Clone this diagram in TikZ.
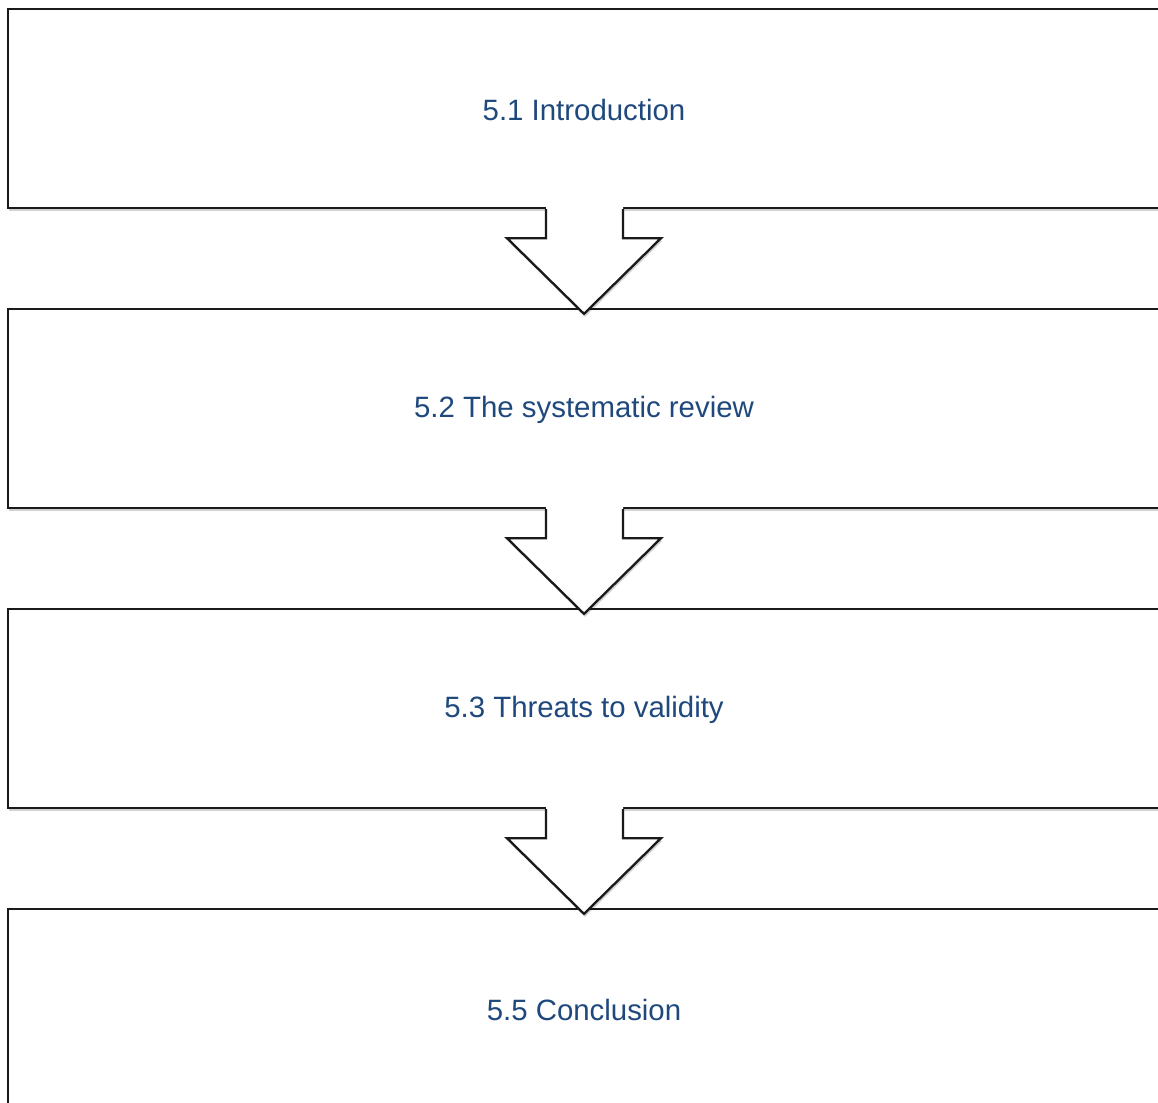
\documentclass[tikz,border=0pt]{standalone}
\usepackage{fontspec}
\setmainfont{Liberation Sans}
\usetikzlibrary{calc,shadows}
\definecolor{textblue}{HTML}{1F497D}
\definecolor{edge}{HTML}{1A1A1A}
\begin{document}
\begin{tikzpicture}[x=1pt,y=-1pt,
  softshadow/.style={drop shadow={shadow xshift=1pt,shadow yshift=-3pt,opacity=0.18,fill=black}},
  stagebox/.style={draw=edge,line width=2.3pt,fill=white,softshadow,
    minimum width=1152pt,minimum height=199pt,inner sep=0pt},
  stagelabel/.style={text=textblue,font=\fontsize{29.4}{34}\selectfont,inner sep=0pt},
  flowarrow/.style={draw=edge,line width=2.3pt,line join=miter}]
\useasboundingbox (0,0) rectangle (1158,1102);
\clip (0,0) rectangle (1158,1102);
\fill[white] (0,0) rectangle (1158,1102);

% the four stages, stacked top to bottom
\node[stagebox] (s1) at (584,108.5) {};
\node[stagebox] (s2) at (584,408.5) {};
\node[stagebox] (s3) at (584,708.5) {};
\node[stagebox] (s4) at (584,1008.5) {};
\node[stagelabel] (t1) at ($(s1.center)+(0,1.5)$) {5.1 Introduction};
\node[stagelabel] (t2) at ($(s2.center)+(0,1.5)$) {5.2 The systematic review};
\node[stagelabel] (t3) at ($(s3.center)+(0,1.5)$) {5.3 Threats to validity};
\node[stagelabel] (t4) at ($(s4.center)+(0,1.5)$) {5.5 Conclusion};

% block arrows linking consecutive stages
\foreach \a/\b in {s1/s2,s2/s3,s3/s4}{
  \path[fill=white,softshadow]
    ($(\a.south)+(-38,-2)$) -- ($(\a.south)+(-38,29)$) -- ($(\a.south)+(-77,29)$)
    -- ($(\b.north)+(0,6)$) -- ($(\a.south)+(77,29)$) -- ($(\a.south)+(39,29)$)
    -- ($(\a.south)+(39,-2)$) -- cycle;
  \draw[flowarrow]
    ($(\a.south)+(-38,0)$) -- ($(\a.south)+(-38,29)$) -- ($(\a.south)+(-77,29)$)
    -- ($(\b.north)+(0,6)$) -- ($(\a.south)+(77,29)$) -- ($(\a.south)+(39,29)$)
    -- ($(\a.south)+(39,0)$);
}
\end{tikzpicture}
\end{document}
